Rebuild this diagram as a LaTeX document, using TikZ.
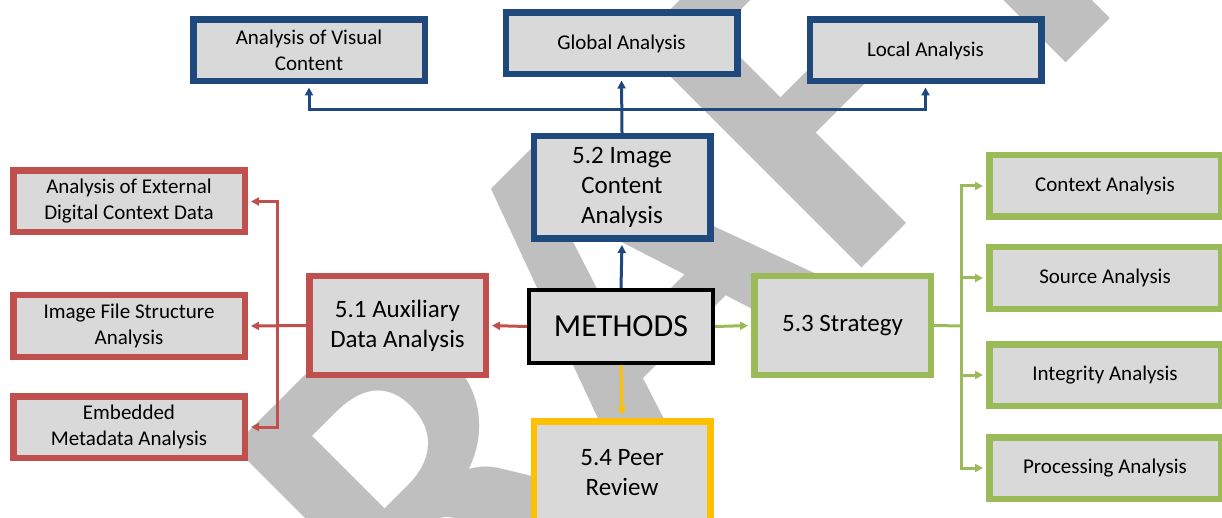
\documentclass[tikz,border=0pt]{standalone}
\usepackage{fontspec}
\setmainfont{Carlito}
\usetikzlibrary{arrows.meta}
\definecolor{methblue}{RGB}{31,73,125}
\definecolor{methred}{RGB}{192,80,77}
\definecolor{methgreen}{RGB}{155,187,89}
\definecolor{methyellow}{RGB}{255,192,0}
\definecolor{boxgray}{RGB}{217,217,217}
\definecolor{wmgray}{RGB}{191,191,191}
\begin{document}
\begin{tikzpicture}[x=1pt,y=-1pt,
  box/.style={draw,fill=boxgray,line width=6.5pt,inner sep=0pt,align=center,font=\fontsize{21}{26}\selectfont},
  small/.style={box,minimum width=231.5pt,minimum height=61.5pt},
  part/.style={box,minimum width=176.5pt,minimum height=98.5pt,font=\fontsize{25}{30}\selectfont},
  link/.style={line width=3pt,shorten >=3pt,-{Triangle[length=8pt,width=8pt]}},
  plain/.style={line width=3pt}]
\useasboundingbox (0,0) rectangle (1222,518);
\clip (0,0) rectangle (1222,518);
\node[rotate=45,text=wmgray,inner sep=0pt,font=\fontsize{490}{490}\selectfont\bfseries] (wm) at (585,320) {DRAFT};
\node[small,draw=methblue] (avc) at (309,50.5) {Analysis of Visual\\Content};
\node[small,draw=methblue] (gla) at (621.5,43.5) {Global Analysis};
\node[small,draw=methblue] (loc) at (925.5,50.5) {Local Analysis};
\node[part,draw=methblue,minimum height=102.5pt] (ica) at (622,187.5) {5.2 Image\\Content\\Analysis};
\node[box,draw=black,line width=4pt,minimum width=184pt,minimum height=73pt,font=\fontsize{32}{38}\selectfont] (met) at (621,326.5) {METHODS};
\node[part,draw=methred] (aux) at (397.5,325.5) {5.1 Auxiliary\\Data Analysis};
\node[part,draw=methgreen] (str) at (842.5,325.5) {5.3 Strategy};
\node[part,draw=methyellow,minimum height=102.5pt] (peer) at (622,472.5) {5.4 Peer\\Review};
\node[small,draw=methred] (ext) at (129,201.5) {Analysis of External\\Digital Context Data};
\node[small,draw=methred] (ifs) at (129,326) {Image File Structure\\Analysis};
\node[small,draw=methred] (emb) at (129,427) {Embedded\\Metadata Analysis};
\node[small,draw=methgreen] (ctx) at (1105,186) {Context Analysis};
\node[small,draw=methgreen] (src) at (1105,278) {Source Analysis};
\node[small,draw=methgreen] (int) at (1105,375) {Integrity Analysis};
\node[small,draw=methgreen] (pro) at (1105,468) {Processing Analysis};
\coordinate (bjoin) at (621,110);
\coordinate (rjoin) at (277,326);
\coordinate (gjoin) at (961,326);
\draw[link,methblue] (met.north) -- (ica.south);
\draw[link,methblue] (ica.north) -- (gla.south);
\draw[link,methblue] (bjoin) -| (avc.south);
\draw[link,methblue] (bjoin) -| (loc.south);
\draw[link,methred] (met.west) -- (aux.east);
\draw[link,methred] (aux.west) -- (ifs.east);
\draw[link,methred] (rjoin) |- (ext.east);
\draw[link,methred] (rjoin) |- (emb.east);
\draw[link,methgreen] (met.east) -- (str.west);
\draw[plain,methgreen] (str.east) -- (gjoin);
\draw[link,methgreen] (gjoin) |- (ctx.west);
\draw[link,methgreen] (gjoin) |- (src.west);
\draw[link,methgreen] (gjoin) |- (int.west);
\draw[link,methgreen] (gjoin) |- (pro.west);
\draw[link,methyellow] (met.south) -- (peer.north);
\end{tikzpicture}
\end{document}
